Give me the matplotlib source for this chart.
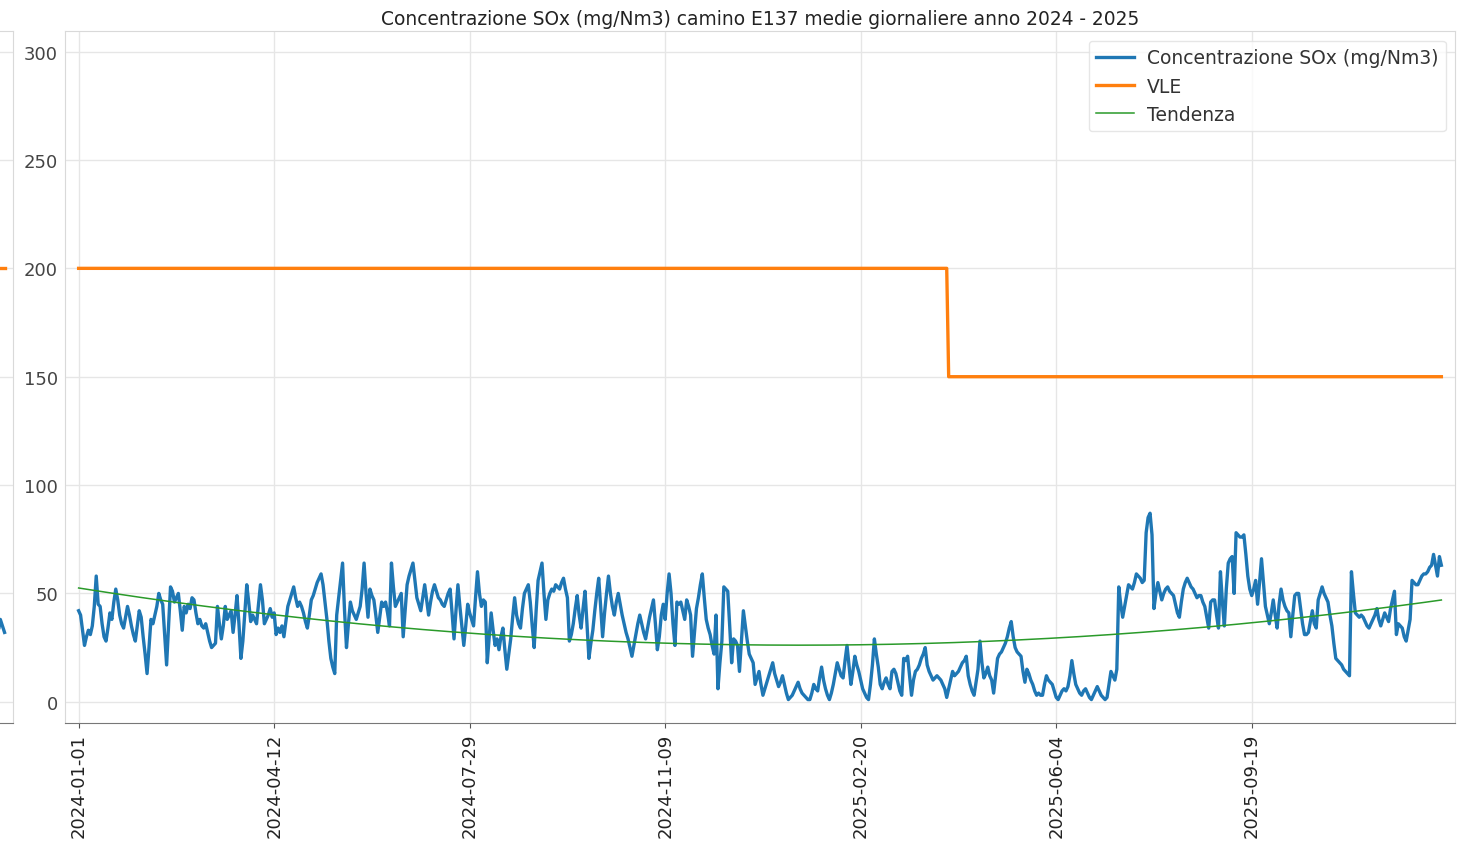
import numpy as np
import matplotlib.pyplot as plt

# Daily averages SOx (mg/Nm3), one value per available day
sox = [
    42, 40, 33, 26, 30, 33, 31, 35, 44, 58,
    45, 44, 36, 30, 28, 34, 41, 38, 46, 52,
    47, 40, 36, 34, 39, 44, 40, 35, 31, 28,
    35, 42, 39, 30, 22, 13, 25, 38, 36, 40,
    44, 50, 47, 45, 31, 17, 35, 53, 51, 46,
    48, 50, 42, 33, 44, 41, 45, 43, 48, 47,
    41, 36, 38, 35, 34, 36, 32, 28, 25, 26,
    27, 44, 36, 29, 35, 44, 38, 40, 42, 32,
    40, 49, 36, 20, 28, 41, 54, 46, 37, 40,
    38, 36, 45, 54, 47, 36, 38, 40, 43, 39,
    41, 31, 34, 32, 35, 30, 37, 44, 47, 50,
    53, 48, 44, 46, 44, 41, 37, 34, 40, 47,
    49, 52, 55, 57, 59, 54, 46, 38, 28, 20,
    16, 13, 40, 48, 56, 64, 42, 25, 36, 46,
    42, 40, 38, 41, 44, 52, 64, 50, 39, 52,
    49, 47, 40, 32, 39, 46, 44, 46, 41, 35,
    64, 53, 44, 46, 48, 50, 30, 42, 54, 58,
    61, 64, 56, 48, 45, 42, 48, 54, 47, 40,
    46, 51, 54, 51, 48, 47, 45, 44, 47, 50,
    52, 41, 29, 42, 54, 44, 35, 26, 35, 45,
    41, 38, 35, 48, 60, 50, 44, 47, 46, 18,
    30, 41, 33, 26, 29, 24, 30, 34, 24, 15,
    22, 29, 39, 48, 40, 36, 34, 43, 50, 52,
    54, 46, 35, 25, 42, 56, 60, 64, 50, 38,
    47, 50, 52, 51, 54, 53, 52, 55, 57, 52,
    48, 28, 31, 36, 43, 49, 40, 34, 43, 51,
    36, 20, 27, 33, 42, 50, 57, 44, 30, 41,
    50, 58, 50, 44, 40, 46, 50, 45, 40, 36,
    32, 29, 25, 21, 26, 31, 36, 40, 36, 32,
    29, 34, 39, 43, 47, 36, 24, 30, 40, 45,
    38, 50, 59, 50, 36, 26, 46, 45, 46, 42,
    38, 47, 44, 40, 21, 32, 43, 48, 54, 59,
    48, 38, 34, 31, 26, 22, 40, 6, 18, 28,
    53, 52, 51, 35, 18, 29, 28, 26, 14, 28,
    42, 35, 28, 22, 20, 18, 8, 11, 14, 8,
    3, 6, 9, 12, 15, 18, 13, 10, 7, 9,
    12, 8, 4, 1, 2, 3, 5, 7, 9, 6,
    4, 3, 2, 1, 1, 4, 8, 6, 5, 11,
    16, 10, 6, 3, 1, 4, 8, 13, 18, 15,
    12, 11, 19, 26, 17, 8, 14, 21, 17, 14,
    10, 6, 4, 2, 1, 8, 17, 29, 22, 16,
    8, 6, 9, 11, 8, 6, 14, 15, 13, 9,
    5, 3, 20, 19, 21, 12, 3, 10, 14, 15,
    17, 20, 22, 25, 17, 14, 12, 10, 11, 12,
    11, 10, 8, 6, 2, 6, 10, 14, 12, 13,
    14, 16, 18, 19, 21, 12, 8, 5, 3, 9,
    15, 28, 18, 11, 13, 16, 12, 10, 4, 12,
    20, 22, 23, 25, 27, 30, 34, 37, 30, 25,
    23, 22, 21, 14, 9, 15, 13, 10, 8, 5,
    3, 4, 3, 3, 8, 12, 10, 9, 8, 5,
    2, 1, 3, 5, 6, 5, 7, 12, 19, 13,
    8, 6, 4, 3, 5, 6, 4, 2, 1, 3,
    5, 7, 5, 3, 2, 1, 2, 8, 14, 12,
    10, 15, 53, 45, 39, 44, 49, 54, 53, 52,
    55, 59, 58, 57, 55, 56, 78, 85, 87, 77,
    43, 50, 55, 51, 47, 50, 52, 53, 51, 50,
    49, 45, 41, 39, 46, 52, 55, 57, 55, 53,
    52, 50, 48, 49, 49, 46, 44, 39, 34, 46,
    47, 47, 40, 34, 60, 46, 35, 52, 64, 66,
    67, 50, 78, 77, 76, 76, 77, 68, 58, 52,
    49, 52, 56, 45, 55, 66, 55, 44, 40, 36,
    41, 47, 40, 34, 45, 52, 47, 44, 42, 41,
    30, 40, 49, 50, 50, 43, 36, 31, 31, 32,
    37, 42, 36, 34, 47, 50, 53, 50, 48, 46,
    40, 35, 27, 20, 19, 18, 17, 15, 14, 13,
    12, 60, 50, 41, 40, 39, 40, 39, 37, 35,
    34, 36, 38, 40, 43, 38, 35, 38, 41, 39,
    37, 43, 47, 51, 31, 36, 35, 34, 30, 28,
    33, 38, 56, 55, 54, 54, 56, 58, 59, 59,
    60, 62, 63, 68, 63, 58, 67, 63,
]

# Emission limit (VLE): 200 until the change, then 150
vle_levels = [200, 150]
vle_change_idx = 445

tick_labels = ['2024-01-01', '2024-04-12', '2024-07-29', '2024-11-09',
               '2025-02-20', '2025-06-04', '2025-09-19']
tick_step = 100

# last few values of the neighbouring chart (cut off at the left edge)
side_sox = [26, 38, 32]
side_vle = [200, 200, 200]

idx = np.arange(len(sox))
vle = np.where(idx < vle_change_idx, vle_levels[0], vle_levels[1])

# quadratic trend like in the original report
coef = np.polyfit(idx, sox, 2)
trend = np.polyval(coef, idx)

fig = plt.figure(figsize=(14.64, 8.45), dpi=100)

ax0 = fig.add_axes([-0.02, 0.1432, 0.02 + 13 / 1464, 0.8186])
side_x = np.arange(len(side_sox)) + 6
ax0.plot(side_x, side_vle, color='#ff7f0e', linewidth=2.4)
ax0.plot(side_x, side_sox, color='#1f77b4', linewidth=2.4)
ax0.set_xlim(0, 10)
ax0.set_ylim(-9.8, 309.4)
ax0.set_yticks(range(0, 301, 50))
ax0.set_xticks([])
ax0.tick_params(left=False, labelleft=False)
ax0.grid(True, color='#e6e6e6', linewidth=1)
for s in ax0.spines.values():
    s.set_color('#d9d9d9')
ax0.spines['bottom'].set_color('#777777')

ax = fig.add_axes([65 / 1464, 0.1432, 1390 / 1464, 0.8186])
ax.plot(idx, sox, color='#1f77b4', linewidth=2.4, label='Concentrazione SOx (mg/Nm3)')
ax.plot(idx, vle, color='#ff7f0e', linewidth=2.4, label='VLE')
ax.plot(idx, trend, color='#2a9a2a', linewidth=1.1, label='Tendenza')

ax.set_title('Concentrazione SOx (mg/Nm3) camino E137 medie giornaliere anno 2024 - 2025',
             fontsize=13.4, color='#222222', pad=5)
ax.margins(x=0.01)
ax.set_ylim(-9.8, 309.4)
ax.set_yticks(range(0, 301, 50))
ax.set_xticks(np.arange(len(tick_labels)) * tick_step)
ax.set_xticklabels(tick_labels, rotation=90)
ax.tick_params(axis='y', length=0, labelsize=13, labelcolor='#444444', pad=5)
ax.tick_params(axis='x', labelsize=13, labelcolor='#222222', color='#555555')
ax.grid(True, color='#e6e6e6', linewidth=1)
ax.set_axisbelow(True)
for s in ax.spines.values():
    s.set_color('#d9d9d9')
ax.spines['bottom'].set_color('#777777')

leg = ax.legend(loc='upper right', fontsize=13.5, frameon=True, fancybox=True,
                borderaxespad=0.5, handlelength=2.0, handletextpad=0.7)
leg.get_frame().set_edgecolor('#e0e0e0')
for t in leg.get_texts():
    t.set_color('#333333')

plt.savefig('out.png', dpi=100)
